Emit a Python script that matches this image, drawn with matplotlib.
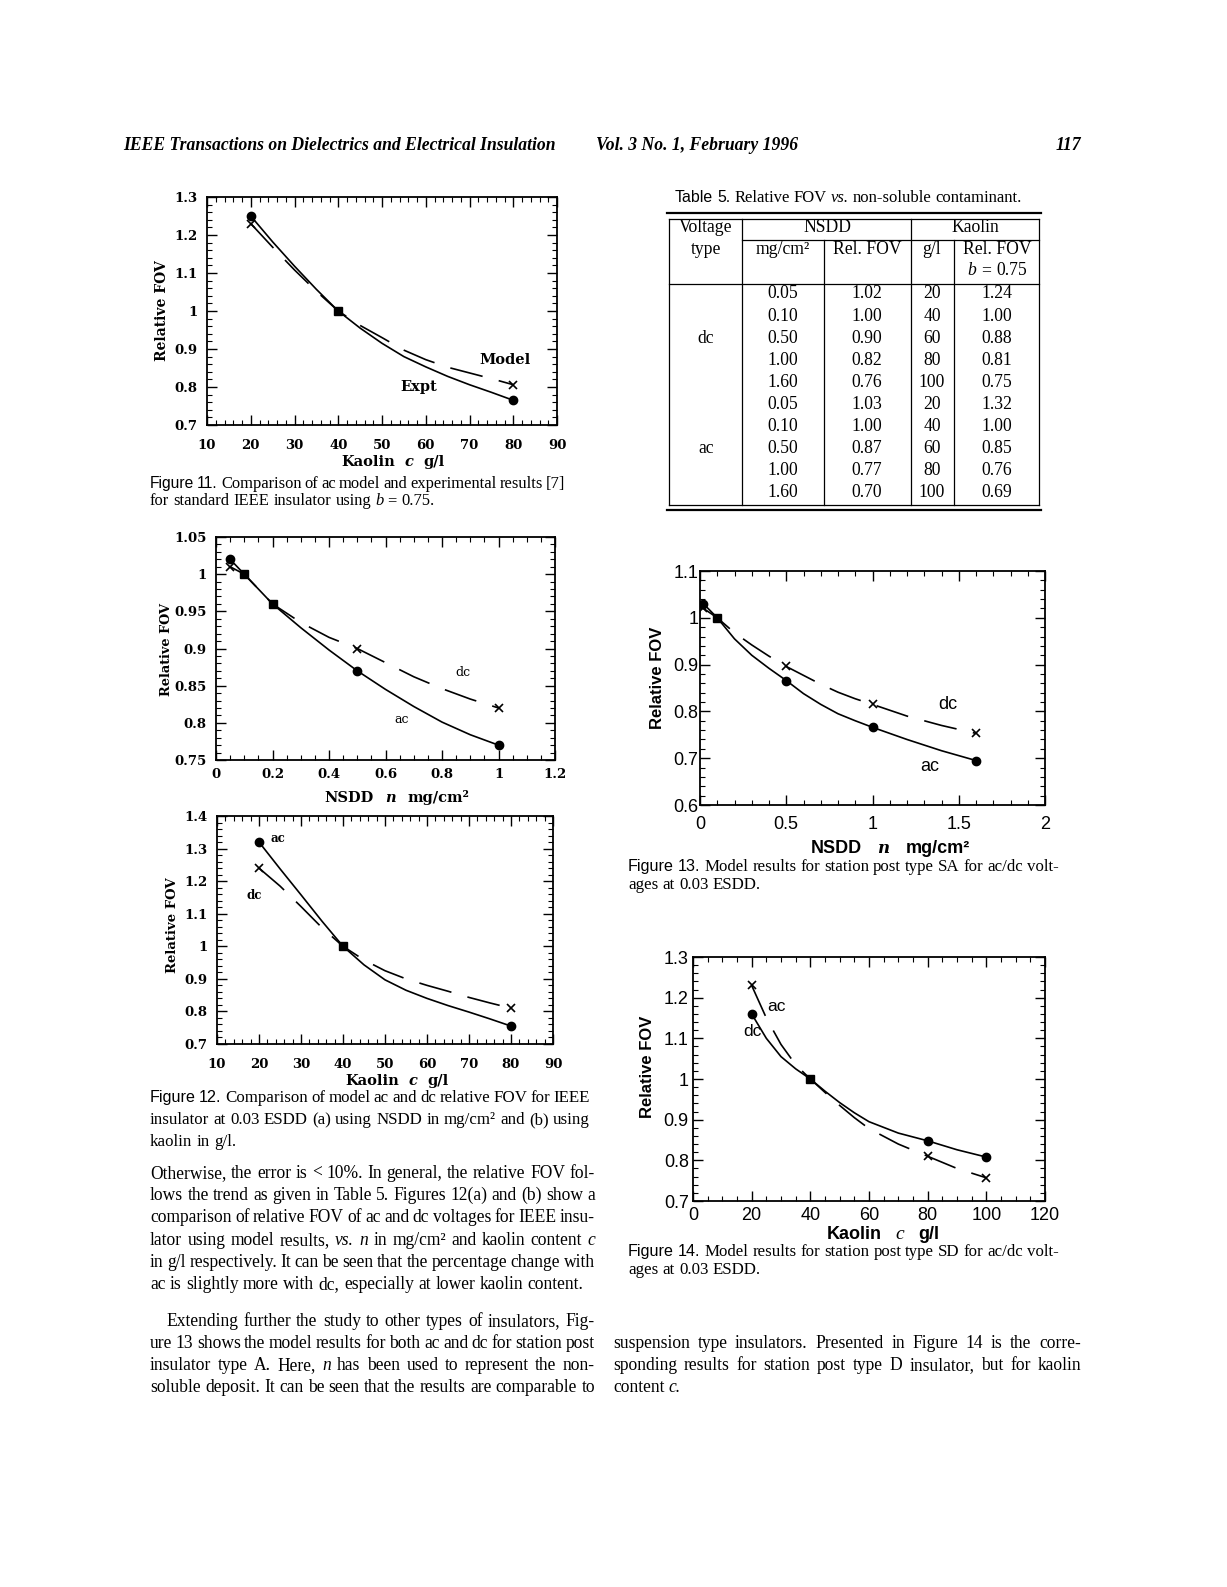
import matplotlib
matplotlib.use('Agg')
import matplotlib.pyplot as plt
import numpy as np
from matplotlib.ticker import MultipleLocator

# ---------------- data ----------------
# Figure 11: ac model vs experiment (kaolin)
f11_c = [20, 40, 80]
f11_expt = [1.25, 1.00, 0.765]
f11_model = [1.23, 1.00, 0.806]
f11_curve_c = [20, 25, 30, 35, 40, 45, 50, 55, 60, 65, 70, 75, 80]
f11_expt_curve = [1.25, 1.182, 1.118, 1.057, 1.00, 0.955, 0.915, 0.88, 0.853, 0.828, 0.806, 0.786, 0.765]
f11_model_curve = [1.23, 1.168, 1.108, 1.052, 1.00, 0.962, 0.93, 0.897, 0.872, 0.852, 0.837, 0.822, 0.806]
f11_xticks = [10, 20, 30, 40, 50, 60, 70, 80, 90]
f11_yticks = [0.7, 0.8, 0.9, 1.0, 1.1, 1.2, 1.3]

# Figure 12(a): NSDD
f12a_n = [0.05, 0.1, 0.2, 0.5, 1.0]
f12a_ac = [1.02, 1.00, 0.96, 0.87, 0.77]
f12a_dc = [1.01, 1.00, 0.96, 0.90, 0.82]
f12a_curve_n = [0.05, 0.1, 0.15, 0.2, 0.3, 0.4, 0.5, 0.6, 0.7, 0.8, 0.9, 1.0]
f12a_ac_curve = [1.02, 1.00, 0.98, 0.96, 0.928, 0.898, 0.87, 0.845, 0.822, 0.801, 0.784, 0.77]
f12a_dc_curve = [1.01, 1.00, 0.98, 0.96, 0.935, 0.915, 0.90, 0.881, 0.862, 0.846, 0.832, 0.82]
f12a_xticks = [0, 0.2, 0.4, 0.6, 0.8, 1.0, 1.2]
f12a_yticks = [0.75, 0.8, 0.85, 0.9, 0.95, 1.0, 1.05]

# Figure 12(b): kaolin
f12b_c = [20, 40, 80]
f12b_ac = [1.32, 1.00, 0.755]
f12b_dc = [1.24, 1.00, 0.81]
f12b_curve_c = [20, 25, 30, 35, 40, 45, 50, 55, 60, 65, 70, 75, 80]
f12b_ac_curve = [1.32, 1.238, 1.158, 1.077, 1.00, 0.943, 0.897, 0.865, 0.84, 0.818, 0.798, 0.777, 0.755]
f12b_dc_curve = [1.24, 1.185, 1.122, 1.057, 1.00, 0.958, 0.925, 0.90, 0.88, 0.862, 0.843, 0.826, 0.81]
f12b_xticks = [10, 20, 30, 40, 50, 60, 70, 80, 90]
f12b_yticks = [0.7, 0.8, 0.9, 1.0, 1.1, 1.2, 1.3, 1.4]

# Figure 13: station post SA, NSDD
f13_n = [0.02, 0.1, 0.5, 1.0, 1.6]
f13_ac = [1.03, 1.00, 0.866, 0.766, 0.695]
f13_dc = [1.02, 1.00, 0.896, 0.815, 0.753]
f13_curve_n = [0.02, 0.1, 0.2, 0.3, 0.4, 0.5, 0.6, 0.7, 0.8, 0.9, 1.0, 1.2, 1.4, 1.6]
f13_ac_curve = [1.03, 1.00, 0.955, 0.92, 0.892, 0.866, 0.838, 0.815, 0.795, 0.78, 0.766, 0.74, 0.716, 0.695]
f13_dc_curve = [1.02, 1.00, 0.968, 0.942, 0.918, 0.896, 0.877, 0.858, 0.841, 0.827, 0.815, 0.79, 0.77, 0.753]
f13_xticks = [0, 0.5, 1.0, 1.5, 2.0]
f13_yticks = [0.6, 0.7, 0.8, 0.9, 1.0, 1.1]

# Figure 14: station post SD, kaolin
f14_c = [20, 40, 80, 100]
f14_dot = [1.16, 1.00, 0.848, 0.808]
f14_cross = [1.23, 1.00, 0.81, 0.757]
f14_curve_c = [20, 25, 30, 35, 40, 45, 50, 55, 60, 70, 80, 90, 100]
f14_dot_curve = [1.16, 1.10, 1.055, 1.025, 1.00, 0.97, 0.942, 0.917, 0.895, 0.867, 0.848, 0.826, 0.808]
f14_cross_curve = [1.23, 1.15, 1.085, 1.035, 1.00, 0.967, 0.935, 0.905, 0.878, 0.84, 0.81, 0.78, 0.757]
f14_xticks = [0, 20, 40, 60, 80, 100, 120]
f14_yticks = [0.7, 0.8, 0.9, 1.0, 1.1, 1.2, 1.3]

# Table 5
tab_nsdd = [0.05, 0.10, 0.50, 1.00, 1.60]
tab_kaolin = [20, 40, 60, 80, 100]
tab_dc_nsdd_fov = [1.02, 1.00, 0.90, 0.82, 0.76]
tab_dc_kaolin_fov = [1.24, 1.00, 0.88, 0.81, 0.75]
tab_ac_nsdd_fov = [1.03, 1.00, 0.87, 0.77, 0.70]
tab_ac_kaolin_fov = [1.32, 1.00, 0.85, 0.76, 0.69]

# ---------------- figure ----------------
W, H = 1227, 1587
fig = plt.figure(figsize=(W / 100, H / 100), dpi=100)
fig.patch.set_facecolor('white')
ov = fig.add_axes([0, 0, 1, 1])
ov.set_xlim(0, W)
ov.set_ylim(H, 0)
ov.axis('off')
renderer = fig.canvas.get_renderer()

SERIF = 'Liberation Serif'
SANS = 'Liberation Sans'
BSERIF = 'DejaVu Serif'


def parse(line):
    toks = []
    for w in line.split(' '):
        if w == '':
            continue
        if w.startswith('*') and w.count('*') >= 2:
            toks.append((w.replace('*', ''), dict(style='italic')))
        elif w.startswith('^'):
            toks.append((w[1:], dict(family=SANS)))
        else:
            toks.append((w, {}))
    return toks


def make_texts(tokens, y, fs, family, common):
    objs = []
    for s, kw in tokens:
        kw2 = dict(family=family, size=fs)
        kw2.update(common)
        kw2.update(kw)
        if kw2.get('family') == SANS and family != SANS and 'size' not in kw:
            kw2['size'] = fs * 0.95
        objs.append(ov.text(0, y, s, va='baseline', ha='left', **kw2))
    return objs


def natural(tokens, fs, family=SERIF):
    objs = make_texts(tokens, 0, fs, family, {})
    w = sum(o.get_window_extent(renderer).width for o in objs)
    for o in objs:
        o.remove()
    return w + (len(tokens) - 1) * 0.75 * fs * 0.25 * 100 / 72


def fit_size(lines, width, fs, indent_first=0):
    best = fs
    for i, ln in enumerate(lines):
        wd = width - (indent_first if i == 0 else 0)
        nat = natural(parse(ln), fs)
        if nat > wd:
            best = min(best, fs * wd / nat)
    return best


def place(tokens, y, x0, x1=None, align='left', fs=11.5, family=SERIF, gap=None, **common):
    objs = make_texts(tokens, y, fs, family, common)
    ws = [o.get_window_extent(renderer).width for o in objs]
    total = sum(ws)
    n = len(objs)
    sp = fs * 0.25 * 100 / 72 if gap is None else gap
    if align == 'justify' and n > 1:
        g = (x1 - x0 - total) / (n - 1)
        start = x0
    else:
        g = sp
        width = total + g * (n - 1)
        if align == 'center':
            start = x0 - width / 2
        elif align == 'right':
            start = x0 - width
        else:
            start = x0
    x = start
    for o, w in zip(objs, ws):
        o.set_x(x)
        x += w + g


def paragraph(lines, x0, x1, y0, dy, fs=11.5, indent=0, last_left=True):
    for i, ln in enumerate(lines):
        xs = x0 + (indent if i == 0 else 0)
        al = 'left' if (last_left and i == len(lines) - 1) else 'justify'
        place(parse(ln), y0 + i * dy, xs, x1, align=al, fs=fs)


def fmt(v):
    return f"{round(v, 3):g}"


def make_axes(x0, y0, x1, y1):
    return fig.add_axes([x0 / W, 1 - y1 / H, (x1 - x0) / W, (y1 - y0) / H])


def style(ax, xlim, ylim, xticks, yticks, xminor, yminor, font, fs, weight, xpad, ypad):
    ax.set_xlim(*xlim)
    ax.set_ylim(*ylim)
    ax.set_xticks(xticks)
    ax.set_xticklabels([fmt(v) for v in xticks], family=font, size=fs, weight=weight)
    ax.set_yticks(yticks)
    ax.set_yticklabels([fmt(v) for v in yticks], family=font, size=fs, weight=weight)
    ax.xaxis.set_minor_locator(MultipleLocator(xminor))
    ax.yaxis.set_minor_locator(MultipleLocator(yminor))
    ax.tick_params(which='both', direction='in', top=True, right=True)
    ax.tick_params(which='major', length=7, width=1.0)
    ax.tick_params(which='minor', length=3.5, width=0.8)
    ax.tick_params(axis='x', which='major', pad=xpad)
    ax.tick_params(axis='y', which='major', pad=ypad)
    for s in ax.spines.values():
        s.set_linewidth(1.3)
    ax.set_facecolor('none')


LW = 1.2
DASH = (20, 10)


def draw_pair(ax, xc, solid, dashed, xm, solid_pts, dashed_pts, solid_marker='o', dashed_marker='x'):
    ax.plot(xc, solid, color='black', lw=LW, solid_capstyle='butt')
    ax.plot(xc, dashed, color='black', lw=LW, dashes=DASH)
    xm = np.array(xm)
    sp = np.array(solid_pts)
    dp = np.array(dashed_pts)
    same = np.isclose(sp, dp)
    ax.plot(xm[~same], sp[~same], ls='none', marker=solid_marker, ms=6, color='black')
    ax.plot(xm[~same], dp[~same], ls='none', marker=dashed_marker, ms=6, mew=1.2, color='black')
    ax.plot(xm[same], sp[same], ls='none', marker='s', ms=6, color='black')


# ---------------- text content ----------------
left_p1 = [
    "Otherwise, the error is < 10%. In general, the relative FOV fol-",
    "lows the trend as given in Table 5. Figures 12(a) and (b) show a",
    "comparison of relative FOV of ac and dc voltages for IEEE insu-",
    "lator using model results, *vs.* *n* in mg/cm² and kaolin content *c*",
    "in g/l respectively. It can be seen that the percentage change with",
    "ac is slightly more with dc, especially at lower kaolin content.",
]
left_p2 = [
    "Extending further the study to other types of insulators, Fig-",
    "ure 13 shows the model results for both ac and dc for station post",
    "insulator type A. Here, *n* has been used to represent the non-",
    "soluble deposit. It can be seen that the results are comparable to",
]
right_p = [
    "suspension type insulators. Presented in Figure 14 is the corre-",
    "sponding results for station post type D insulator, but for kaolin",
    "content *c.*",
]
cap11 = ["^Figure ^11. Comparison of ac model and experimental results [7]",
         "for standard IEEE insulator using *b* = 0.75."]
cap12 = ["^Figure ^12. Comparison of model ac and dc relative FOV for IEEE",
         "insulator at 0.03 ESDD (a) using NSDD in mg/cm² and (b) using",
         "kaolin in g/l."]
cap13 = ["^Figure ^13. Model results for station post type SA for ac/dc volt-",
         "ages at 0.03 ESDD."]
cap14 = ["^Figure ^14. Model results for station post type SD for ac/dc volt-",
         "ages at 0.03 ESDD."]

BODY = min(fit_size(left_p1[:-1], 445, 12.8), fit_size(left_p2, 445, 12.8, 16), fit_size(right_p[:-1], 468, 12.8))
CAP = min(fit_size(cap12[:2], 440, 12.3), fit_size(cap13[:1], 431, 12.3))
CAP11 = fit_size(cap11[:1], 415, 12.0)

# ---------------- header ----------------
place([("IEEE Transactions on Dielectrics and Electrical Insulation", {})], 150, 123.5,
      fs=12.7, style='italic', weight='bold')
place([("Vol. 3 No. 1, February 1996", {})], 150, 596, fs=12.7, style='italic', weight='bold')
place([("117", {})], 150, 1081, align='right', fs=12.7, style='italic', weight='bold')

# ---------------- Figure 11 ----------------
ax = make_axes(207, 197, 557, 425)
style(ax, (10, 90), (0.7, 1.3), f11_xticks, f11_yticks, 2, 0.02, BSERIF, 9.5, 'bold', 10, 7)
draw_pair(ax, f11_curve_c, f11_expt_curve, f11_model_curve, f11_c, f11_expt, f11_model)
ax.text(78, 0.872, "Model", family=BSERIF, weight='bold', size=10.5, ha='center', va='center')
ax.text(58.3, 0.80, "Expt", family=BSERIF, weight='bold', size=10.5, ha='center', va='center')
ov.text(162, 311, "Relative FOV", rotation=90, family=BSERIF, weight='bold', size=10, ha='center', va='center')
place([("Kaolin", {}), ("c", dict(style='italic')), ("g/l", {})], 466, 393, align='center',
      fs=10.5, family=BSERIF, weight='bold', gap=10)
place(parse(cap11[0]), 488, 150, 565, align='justify', fs=CAP11)
place(parse(cap11[1]), 505, 150, fs=CAP11)

# ---------------- Figure 12(a) ----------------
ax = make_axes(216, 537, 555, 760)
style(ax, (0, 1.2), (0.75, 1.05), f12a_xticks, f12a_yticks, 0.05, 0.01, BSERIF, 9.5, 'bold', 6, 7)
draw_pair(ax, f12a_curve_n, f12a_ac_curve, f12a_dc_curve, f12a_n, f12a_ac, f12a_dc)
ax.text(0.875, 0.868, "dc", family=BSERIF, size=9, ha='center', va='center')
ax.text(0.657, 0.804, "ac", family=BSERIF, size=9, ha='center', va='center')
ov.text(167, 650, "Relative FOV", rotation=90, family=BSERIF, weight='bold', size=9.3, ha='center', va='center')
place([("NSDD", {}), ("n", dict(style='italic')), ("mg/cm²", {})], 802, 397, align='center',
      fs=10.5, family=BSERIF, weight='bold', gap=12)

# ---------------- Figure 12(b) ----------------
ax = make_axes(217, 816, 553, 1044)
style(ax, (10, 90), (0.7, 1.4), f12b_xticks, f12b_yticks, 2, 0.02, BSERIF, 9.5, 'bold', 10, 7)
draw_pair(ax, f12b_curve_c, f12b_ac_curve, f12b_dc_curve, f12b_c, f12b_ac, f12b_dc)
ax.text(24.5, 1.332, "ac", family=BSERIF, weight='bold', size=8.5, ha='center', va='center')
ax.text(18.8, 1.155, "dc", family=BSERIF, weight='bold', size=8.5, ha='center', va='center')
ov.text(172, 925, "Relative FOV", rotation=90, family=BSERIF, weight='bold', size=9.5, ha='center', va='center')
place([("Kaolin", {}), ("c", dict(style='italic')), ("g/l", {})], 1085, 397, align='center',
      fs=10.5, family=BSERIF, weight='bold', gap=10)
place(parse(cap12[0]), 1102, 150, 590, align='justify', fs=CAP)
place(parse(cap12[1]), 1124, 150, 590, align='justify', fs=CAP)
place(parse(cap12[2]), 1146, 150, fs=CAP)

# ---------------- Table 5 ----------------
place(parse("^Table ^5. Relative FOV *vs.* non-soluble contaminant."), 202, 675, 1022, align='justify', fs=12.0)
lk = dict(color='black', lw=0.9)
ov.plot([667, 1041], [213, 213], color='black', lw=1.6)
ov.plot([669, 1039], [219, 219], **lk)
ov.plot([669, 1039], [284, 284], **lk)
ov.plot([742, 1039], [240, 240], **lk)
ov.plot([669, 1039], [505, 505], **lk)
ov.plot([667, 1041], [510, 510], color='black', lw=1.6)
for xv in [669, 742, 911, 1039]:
    ov.plot([xv, xv], [219, 505], **lk)
for xv in [824, 954]:
    ov.plot([xv, xv], [240, 505], **lk)
TFS = 12.7
place([("Voltage", {})], 232, 706, align='center', fs=TFS)
place([("type", {})], 254, 706, align='center', fs=TFS)
place([("NSDD", {})], 232, 827, align='center', fs=TFS)
place([("Kaolin", {})], 232, 975, align='center', fs=TFS)
place([("mg/cm²", {})], 254, 783, align='center', fs=TFS)
place([("Rel. FOV", {})], 254, 867, align='center', fs=TFS)
place([("g/l", {})], 254, 932, align='center', fs=TFS)
place([("Rel. FOV", {})], 254, 997, align='center', fs=TFS)
place([("b", dict(style='italic')), ("=", {}), ("0.75", {})], 275, 997, align='center', fs=TFS, gap=5)
row_y0, row_dy = 298.5, 22.1
rows = []
for i in range(5):
    rows.append((tab_nsdd[i], tab_dc_nsdd_fov[i], tab_kaolin[i], tab_dc_kaolin_fov[i]))
for i in range(5):
    rows.append((tab_nsdd[i], tab_ac_nsdd_fov[i], tab_kaolin[i], tab_ac_kaolin_fov[i]))
for r, (a, b, c, d) in enumerate(rows):
    y = row_y0 + r * row_dy
    place([(f"{a:.2f}", {})], y, 783, align='center', fs=TFS)
    place([(f"{b:.2f}", {})], y, 867, align='center', fs=TFS)
    place([(f"{c:d}", {})], y, 932, align='center', fs=TFS)
    place([(f"{d:.2f}", {})], y, 997, align='center', fs=TFS)
place([("dc", {})], row_y0 + 2 * row_dy, 706, align='center', fs=TFS)
place([("ac", {})], row_y0 + 7 * row_dy, 706, align='center', fs=TFS)

# ---------------- Figure 13 ----------------
ax = make_axes(700, 571, 1045, 805)
style(ax, (0, 2), (0.6, 1.1), f13_xticks, f13_yticks, 0.1, 0.02, SANS, 13, 'normal', 8, 1)
draw_pair(ax, f13_curve_n, f13_ac_curve, f13_dc_curve, f13_n, f13_ac, f13_dc)
ax.text(1.436, 0.815, "dc", family=SANS, size=13, ha='center', va='center')
ax.text(1.334, 0.682, "ac", family=SANS, size=13, ha='center', va='center')
ov.text(657, 678, "Relative FOV", rotation=90, family=SANS, weight='bold', size=12, ha='center', va='center')
place([("NSDD", {}), ("n", dict(style='italic', family=BSERIF, size=12)), ("mg/cm²", {})], 853, 890, align='center',
      fs=13, family=SANS, weight='bold', gap=16)
place(parse(cap13[0]), 871, 628, 1059, align='justify', fs=CAP)
place(parse(cap13[1]), 889, 628, fs=CAP)

# ---------------- Figure 14 ----------------
ax = make_axes(693, 957, 1045, 1201)
style(ax, (0, 120), (0.7, 1.3), f14_xticks, f14_yticks, 5, 0.02, SANS, 13, 'normal', 4, 3)
draw_pair(ax, f14_curve_c, f14_dot_curve, f14_cross_curve, f14_c, f14_dot, f14_cross)
ax.text(28.6, 1.179, "ac", family=SANS, size=12.5, ha='center', va='center')
ax.text(20.1, 1.118, "dc", family=SANS, size=12.5, ha='center', va='center')
ov.text(648, 1067, "Relative FOV", rotation=90, family=SANS, weight='bold', size=12, ha='center', va='center')
place([("Kaolin", {}), ("c", dict(style='italic', family=SERIF, weight='normal', size=14)), ("g/l", {})], 1239, 883,
      align='center', fs=13, family=SANS, weight='bold', gap=14)
place(parse(cap14[0]), 1256, 628, 1059, align='justify', fs=CAP)
place(parse(cap14[1]), 1274, 628, fs=CAP)

# ---------------- body text ----------------
paragraph(left_p1, 150, 595, 1178, 22.2, fs=BODY)
paragraph(left_p2, 150, 595, 1326, 22.1, fs=BODY, indent=16, last_left=False)
paragraph(right_p, 613, 1081, 1348, 22.1, fs=BODY)

fig.savefig('out.png', dpi=100, facecolor='white')
